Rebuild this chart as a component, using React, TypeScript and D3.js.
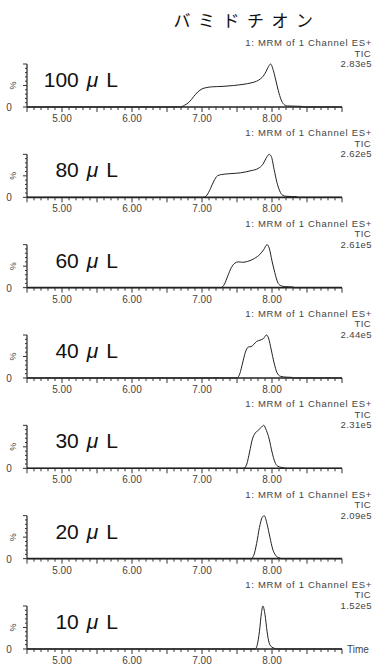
import React from "react";
import * as d3 from "d3";

const title = "バミドチオン";
const headerLine = "1: MRM of 1 Channel ES+";
const ticLabel = "TIC";
const volumes = ["100", "80", "60", "40", "30", "20", "10"];
const intensities = ["2.83e5", "2.62e5", "2.61e5", "2.44e5", "2.31e5", "2.09e5", "1.52e5"];
const xTickLabels = [5, 6, 7, 8];

const p100: [number, number][] = [[4.5,0],[6.68,0],[6.75,4],[6.82,12],[6.88,24],[6.94,35],[7.0,42],[7.06,45],[7.15,47],[7.3,48],[7.45,50],[7.6,53],[7.7,56],[7.78,60],[7.84,66],[7.9,78],[7.95,94],[7.98,100],[8.01,90],[8.05,65],[8.09,38],[8.13,17],[8.17,6],[8.22,2.5],[8.3,2],[8.42,1.5],[8.46,0],[9.0,0]];
const p80: [number, number][] = [[4.5,0],[7.02,0],[7.07,5],[7.12,20],[7.17,38],[7.22,50],[7.28,53],[7.4,55],[7.55,57],[7.7,62],[7.8,67],[7.87,77],[7.92,92],[7.96,100],[7.99,95],[8.03,65],[8.07,35],[8.11,15],[8.15,5],[8.2,2.5],[8.35,1.5],[8.38,0],[9,0]];
const p60: [number, number][] = [[4.5,0],[7.27,0],[7.32,8],[7.37,28],[7.42,47],[7.47,57],[7.52,60],[7.58,59],[7.65,61],[7.75,68],[7.83,78],[7.88,88],[7.93,100],[7.96,92],[8.0,62],[8.04,35],[8.08,13],[8.12,5],[8.18,2.5],[8.3,1.5],[8.32,0],[9,0]];
const p40: [number, number][] = [[4.5,0],[7.5,0],[7.54,10],[7.58,35],[7.62,60],[7.66,72],[7.7,73],[7.74,78],[7.78,85],[7.83,88],[7.88,92],[7.92,100],[7.95,93],[7.99,65],[8.03,35],[8.07,13],[8.12,4],[8.2,2],[8.28,1.5],[8.3,0],[9,0]];
const p30: [number, number][] = [[4.5,0],[7.6,0],[7.64,10],[7.68,38],[7.72,68],[7.76,82],[7.8,88],[7.85,96],[7.88,100],[7.92,88],[7.96,68],[8.0,38],[8.04,15],[8.08,5],[8.14,2],[8.22,0],[9,0]];
const p20: [number, number][] = [[4.5,0],[7.7,0],[7.74,8],[7.78,35],[7.82,72],[7.86,96],[7.89,100],[7.93,80],[7.97,50],[8.01,22],[8.05,8],[8.1,2],[8.15,0],[9,0]];
const p10: [number, number][] = [[4.5,0],[7.76,0],[7.79,10],[7.82,40],[7.85,85],[7.87,100],[7.9,80],[7.93,40],[7.96,14],[8.0,4],[8.05,1],[8.08,0],[9,0]];
const series = [p100, p80, p60, p40, p30, p20, p10];

const W = 375;
const H = 665;
const firstBase = 107;
const panelStep = 90.33;
const plotH = 43;

const sans = "'Liberation Sans', Arial, sans-serif";

export default function App() {
  const x = d3.scaleLinear().domain([4.5, 9.0]).range([27, 342]);
  const minorTicks = d3.range(45, 91).map((v) => v / 10);
  const yTicks = d3.range(0, 101, 10);

  return (
    <svg width={W} height={H} style={{ position: "absolute", left: 0, top: 0, background: "#fff" }}>
      <rect width={W} height={H} fill="#fff" />
      <text x={247} y={27} textAnchor="middle" fontFamily="'Noto Sans CJK JP', sans-serif" fontSize={17} letterSpacing={7.5} fill="#111">
        {title}
      </text>
      {series.map((pts, i) => {
        const base = firstBase + i * panelStep;
        const y = d3.scaleLinear().domain([0, 100]).range([base, base - plotH]);
        const line = d3
          .line<[number, number]>()
          .x((d) => x(d[0]))
          .y((d) => y(d[1]))
          .curve(d3.curveMonotoneX);
        return (
          <g key={i}>
            <text x={372} y={base - 61} textAnchor="end" fontFamily={sans} fontSize={9.5} letterSpacing={0.7} fill="#444">{headerLine}</text>
            <text x={371} y={base - 50.5} textAnchor="end" fontFamily={sans} fontSize={9.5} letterSpacing={0.4} fill="#444">{ticLabel}</text>
            <text x={372} y={base - 40} textAnchor="end" fontFamily={sans} fontSize={9.5} letterSpacing={0.4} fill="#444">{intensities[i]}</text>
            <text x={118} y={base - 20} textAnchor="end" fontFamily={sans} fontSize={21} fill="#111">
              <tspan>{volumes[i]}</tspan>
              <tspan dx={8} fontStyle="italic">μ</tspan>
              <tspan dx={8}>L</tspan>
            </text>
            {/* y axis */}
            <line x1={x(4.5)} x2={x(4.5)} y1={y(100)} y2={y(0)} stroke="#222" strokeWidth={1.2} />
            {yTicks.map((t) => (
              <line key={t} x1={x(4.5)} x2={x(4.5) - (t % 50 === 0 ? 4 : 2)} y1={y(t)} y2={y(t)} stroke="#333" strokeWidth={1} />
            ))}
            <text x={9} y={base + 4} textAnchor="middle" fontFamily={sans} fontSize={10} fill="#444">0</text>
            <text transform={`translate(16,${y(50)}) rotate(-90)`} textAnchor="middle" fontFamily={sans} fontSize={9} fill="#444">%</text>
            {/* x axis */}
            <line x1={x(4.5)} x2={x(9.0)} y1={base} y2={base} stroke="#222" strokeWidth={1.6} />
            {minorTicks.map((t) => {
              const major = Math.abs(t * 2 - Math.round(t * 2)) < 1e-6;
              return (
                <line key={t} x1={x(t)} x2={x(t)} y1={base} y2={base + (major ? 5 : 3)} stroke="#333" strokeWidth={1} />
              );
            })}
            {xTickLabels.map((t) => (
              <text key={t} x={x(t)} y={base + 15} textAnchor="middle" fontFamily={sans} fontSize={10} fill="#444">
                {t.toFixed(2)}
              </text>
            ))}
            <path d={line(pts) || ""} fill="none" stroke="#222" strokeWidth={1} />
            {i === series.length - 1 && (
              <text x={347} y={base + 4} fontFamily={sans} fontSize={10} fill="#444">Time</text>
            )}
          </g>
        );
      })}
    </svg>
  );
}
